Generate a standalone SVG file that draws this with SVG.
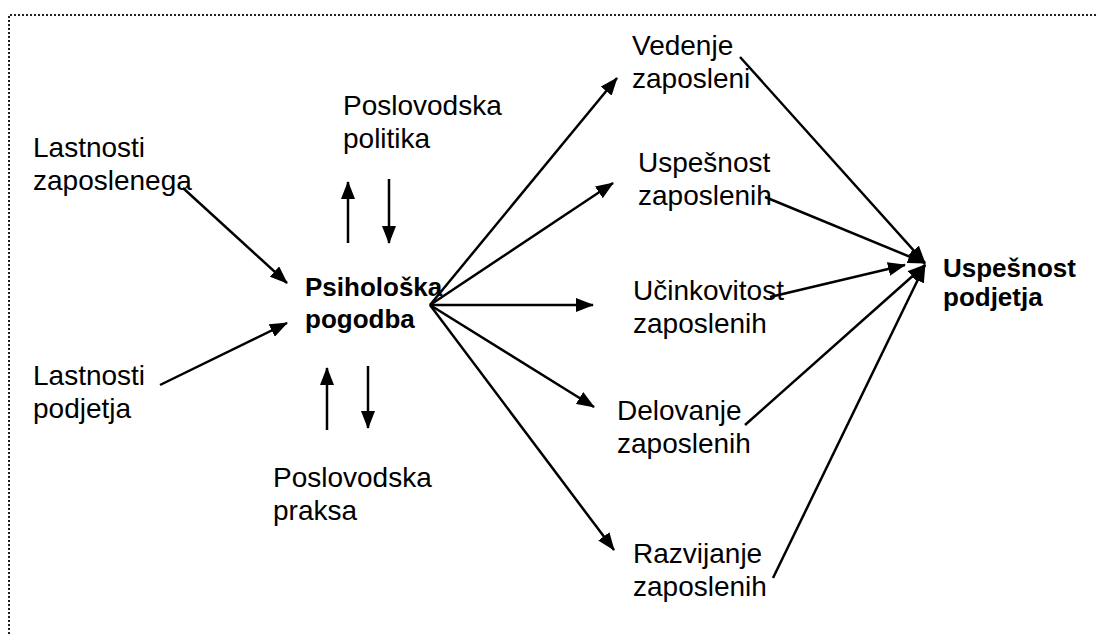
<svg xmlns="http://www.w3.org/2000/svg" width="1097" height="634" viewBox="0 0 1097 634">
  <defs>
    <marker id="head" markerUnits="userSpaceOnUse" markerWidth="18" markerHeight="14" viewBox="0 0 18 14" refX="17" refY="7" orient="auto">
      <path d="M0,0 L18,7 L0,14 z" fill="#000"/>
    </marker>
    <style>
      .t { font-family: "Liberation Sans", Arial, sans-serif; font-size: 28px; fill: #000; }
      .b { font-family: "Liberation Sans", Arial, sans-serif; font-size: 26px; font-weight: bold; fill: #000; }
      .c { stroke: #000; stroke-width: 2.5; fill: none; marker-end: url(#head); }
      .frame { stroke: #222; stroke-width: 2; stroke-dasharray: 2 2; fill: none; }
    </style>
  </defs>
  <rect width="1097" height="634" fill="#fff"/>

  <!-- dotted frame (top and left edges) -->
  <path class="frame" d="M9,634 L9,15 L1097,15"/>

  <g id="lastnosti-zaposlenega"><text class="t" x="33" y="157">Lastnosti</text><text class="t" x="33" y="190">zaposlenega</text></g>
  <g id="lastnosti-podjetja"><text class="t" x="33" y="385">Lastnosti</text><text class="t" x="33" y="418">podjetja</text></g>
  <g id="poslovodska-politika"><text class="t" x="343" y="115">Poslovodska</text><text class="t" x="343" y="148">politika</text></g>
  <g id="poslovodska-praksa"><text class="t" x="273" y="487">Poslovodska</text><text class="t" x="273" y="520">praksa</text></g>
  <g id="psiholoska-pogodba"><text class="b" x="305" y="296">Psihološka</text><text class="b" x="305" y="328">pogodba</text></g>
  <g id="vedenje"><text class="t" x="632" y="55">Vedenje</text><text class="t" x="632" y="88">zaposleni</text></g>
  <g id="uspesnost-zaposlenih"><text class="t" x="638" y="172">Uspešnost</text><text class="t" x="638" y="205">zaposlenih</text></g>
  <g id="ucinkovitost"><text class="t" x="633" y="300">Učinkovitost</text><text class="t" x="633" y="333">zaposlenih</text></g>
  <g id="delovanje"><text class="t" x="617" y="420">Delovanje</text><text class="t" x="617" y="453">zaposlenih</text></g>
  <g id="razvijanje"><text class="t" x="633" y="563">Razvijanje</text><text class="t" x="633" y="596">zaposlenih</text></g>
  <g id="uspesnost-podjetja"><text class="b" x="943" y="277">Uspešnost</text><text class="b" x="943" y="306">podjetja</text></g>

  <g id="connectors">
    <line class="c" x1="183" y1="188" x2="287" y2="283"/>
    <line class="c" x1="160" y1="385" x2="287" y2="323"/>
    <line class="c" x1="348" y1="243" x2="348" y2="182"/>
    <line class="c" x1="389" y1="179" x2="389" y2="243"/>
    <line class="c" x1="327" y1="430" x2="327" y2="368"/>
    <line class="c" x1="368" y1="366" x2="368" y2="428"/>
    <line class="c" x1="430" y1="305" x2="617" y2="78"/>
    <line class="c" x1="430" y1="305" x2="613" y2="183"/>
    <line class="c" x1="430" y1="305" x2="593" y2="305"/>
    <line class="c" x1="430" y1="305" x2="594" y2="407"/>
    <line class="c" x1="430" y1="305" x2="614" y2="550"/>
    <line class="c" x1="740" y1="57" x2="925" y2="263"/>
    <line class="c" x1="765" y1="197" x2="925" y2="263"/>
    <line class="c" x1="770" y1="297" x2="905" y2="265"/>
    <line class="c" x1="745" y1="425" x2="925" y2="265"/>
    <line class="c" x1="773" y1="578" x2="925" y2="265"/>
  </g>
</svg>
